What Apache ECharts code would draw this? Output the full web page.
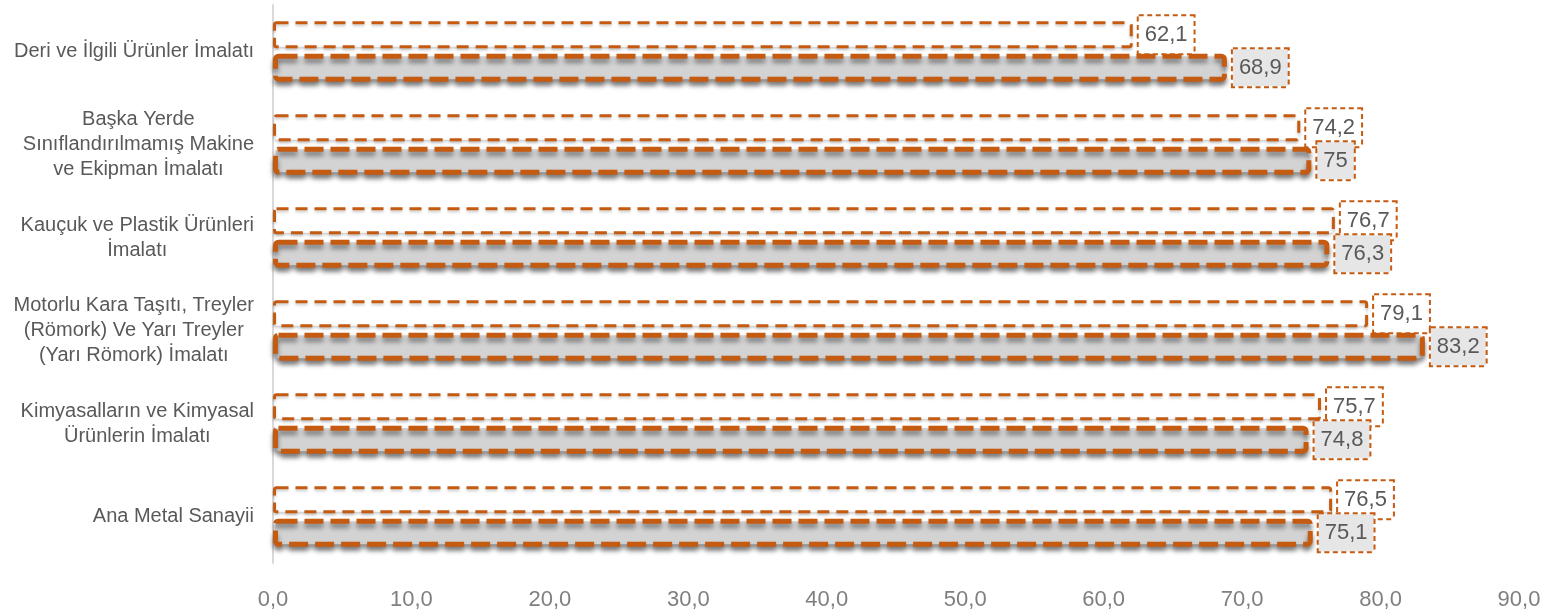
<!DOCTYPE html>
<html>
<head>
<meta charset="utf-8">
<script src="https://cdn.jsdelivr.net/npm/echarts@6/dist/echarts.min.js"></script>
<style>
html,body{margin:0;padding:0;background:#fff;}
#chart{width:1558px;height:614px;}
</style>
</head>
<body>
<div id="chart"></div>
<script>
const categories = [
  "Deri ve İlgili Ürünler İmalatı",
  "Başka Yerde\nSınıflandırılmamış Makine\nve Ekipman İmalatı",
  "Kauçuk ve Plastik Ürünleri\nİmalatı",
  "Motorlu Kara Taşıtı, Treyler\n(Römork) Ve Yarı Treyler\n(Yarı Römork) İmalatı",
  "Kimyasalların ve Kimyasal\nÜrünlerin İmalatı",
  "Ana Metal Sanayii"
];
const seriesA = [62.1, 74.2, 76.7, 79.1, 75.7, 76.5];
const seriesB = [68.9, 75, 76.3, 83.2, 74.8, 75.1];
const xTicks = [0, 10, 20, 30, 40, 50, 60, 70, 80, 90];

const ORANGE = '#C55A11';
const FONT = 'Liberation Sans, Arial, sans-serif';
const chart = echarts.init(document.getElementById('chart'), null, {renderer: 'canvas'});
const fmtNum = v => String(v).replace('.', ',');

chart.setOption({
  animation: false,
  textStyle: {fontFamily: FONT},
  grid: {left: 273, right: 39, top: 5, bottom: 51, containLabel: false},
  xAxis: {
    type: 'value', min: xTicks[0], max: xTicks[xTicks.length - 1], interval: 10,
    axisLine: {show: false}, axisTick: {show: false}, splitLine: {show: false},
    axisLabel: {
      color: '#7f7f7f', fontSize: 22, fontFamily: FONT, margin: 26,
      formatter: v => v.toFixed(1).replace('.', ',')
    }
  },
  yAxis: {
    type: 'category', data: categories, inverse: true,
    axisLine: {show: true, lineStyle: {color: '#d9d9d9', width: 2}},
    axisTick: {show: false},
    axisLabel: {
      align: 'right', margin: 19,
      formatter: v => v.split('\n').map(l => '{c|' + l + '}').join('\n'),
      rich: {c: {align: 'center', fontSize: 20, lineHeight: 25, color: '#595959', fontFamily: FONT}}
    }
  },
  series: [
    {
      name: 'A', type: 'bar', data: seriesA, barWidth: 27, barGap: '20%',
      itemStyle: {
        color: '#ffffff', borderColor: ORANGE, borderWidth: 3, borderType: [12, 7],
        borderRadius: 2,
        shadowColor: 'rgba(0,0,0,0.2)', shadowBlur: 3, shadowOffsetY: 2
      },
      label: {
        show: true, position: 'right', distance: 6,
        formatter: p => fmtNum(p.value),
        color: '#595959', fontSize: 22, fontFamily: FONT,
        backgroundColor: '#ffffff', borderColor: ORANGE, borderWidth: 2, borderType: [5, 3.5],
        padding: [7, 6, 6, 6], lineHeight: 24
      }
    },
    {
      name: 'B', type: 'bar', data: seriesB, barWidth: 28, barGap: '20%',
      itemStyle: {
        color: '#d3d3d3', borderColor: ORANGE, borderWidth: 5, borderType: [19, 7],
        borderRadius: 3,
        shadowColor: 'rgba(0,0,0,0.45)', shadowBlur: 5, shadowOffsetY: 4
      },
      label: {
        show: true, position: 'right', distance: 6,
        formatter: p => fmtNum(p.value),
        color: '#595959', fontSize: 22, fontFamily: FONT,
        backgroundColor: '#e6e6e6', borderColor: ORANGE, borderWidth: 2, borderType: [5, 3.5],
        padding: [7, 6, 6, 6], lineHeight: 24
      }
    }
  ]
});
</script>
</body>
</html>
